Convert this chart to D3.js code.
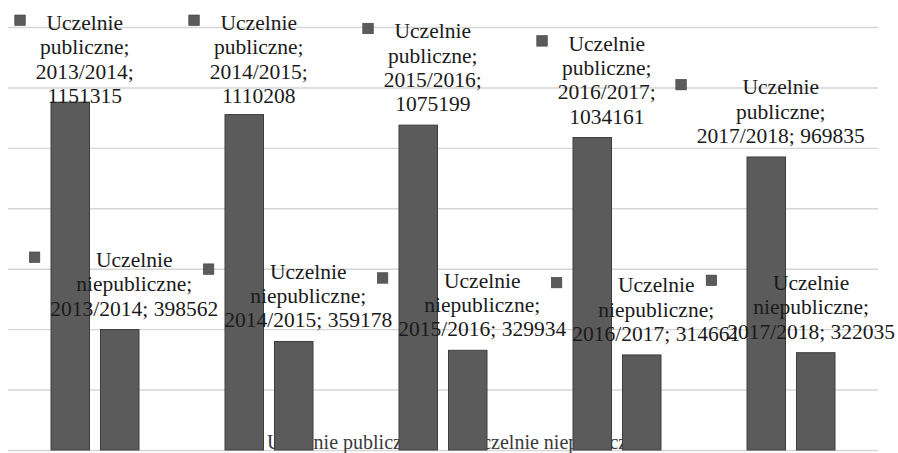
<!DOCTYPE html>
<html>
<head>
<meta charset="utf-8">
<script src="https://cdn.jsdelivr.net/npm/d3@7"></script>
<style>
body { margin: 0; background: #fff; }
svg { display: block; }
</style>
</head>
<body>
<div class="chart"></div>
<script>
var categories = ['2013/2014', '2014/2015', '2015/2016', '2016/2017', '2017/2018'];
var seriesNames = ['Uczelnie publiczne', 'Uczelnie niepubliczne'];
var publiczne = [1151315, 1110208, 1075199, 1034161, 969835];
var niepubliczne = [398562, 359178, 329934, 314661, 322035];
var yTicks = [0, 200000, 400000, 600000, 800000, 1000000, 1200000, 1400000];

var width = 898, height = 453;
var plotLeft = 8, plotRight = 878, plotBottom = 450, plotTop = 27;
var fontFamily = '"Liberation Serif", "Times New Roman", serif';
var labelSize = 21.5, lineH = 24.3;

var svg = d3.select('.chart').append('svg')
    .attr('width', width)
    .attr('height', height);

var x0 = d3.scaleBand().domain(categories).range([plotLeft, plotRight]);
var x1 = d3.scaleBand().domain(seriesNames).range([43, 131]).paddingInner(0.222);
var y = d3.scaleLinear().domain([0, 1400000]).range([plotBottom, plotTop]);

// gridlines
var grid = svg.append('g')
    .attr('transform', 'translate(' + plotLeft + ',0)')
    .call(d3.axisLeft(y).tickValues(yTicks).tickSize(-(plotRight - plotLeft)).tickFormat(''));
grid.select('.domain').remove();
grid.selectAll('.tick line').attr('stroke', '#d6d6d6').attr('stroke-width', 1.4);

// measuring helper
var meas = svg.append('text')
    .attr('font-family', fontFamily)
    .attr('font-size', labelSize)
    .attr('visibility', 'hidden');
function textW(s, size) {
    meas.attr('font-size', size).text(s);
    return meas.node().getComputedTextLength();
}

// legend (sits under the bars)
var legendSize = 20;
var legendW = seriesNames.map(function(s){ return 10 + 5 + textW(s, legendSize); });
var legendGap = 32;
var legendTotal = d3.sum(legendW) + legendGap;
var lx = 449 - legendTotal / 2;
var legend = svg.append('g');
seriesNames.forEach(function(s, i){
    legend.append('rect')
        .attr('x', lx).attr('y', 438)
        .attr('width', 10).attr('height', 10)
        .attr('fill', '#5a5a5a');
    legend.append('text')
        .attr('x', lx + 15).attr('y', 449)
        .attr('font-family', fontFamily)
        .attr('font-size', legendSize)
        .attr('fill', '#3a3a3a')
        .text(s);
    lx += legendW[i] + legendGap;
});

// bars
var bars = [];
categories.forEach(function(c, i){
    bars.push({cat: c, series: seriesNames[0], value: publiczne[i]});
    bars.push({cat: c, series: seriesNames[1], value: niepubliczne[i]});
});

svg.selectAll('.bar')
    .data(bars)
    .enter().append('rect')
    .attr('class', 'bar')
    .attr('x', function(d){ return x0(d.cat) + x1(d.series); })
    .attr('y', function(d){ return y(d.value); })
    .attr('width', x1.bandwidth())
    .attr('height', function(d){ return y(0) - y(d.value); })
    .attr('fill', '#5b5b5b')
    .attr('stroke', '#3e3e3e')
    .attr('stroke-width', 1);

// data labels with legend key
var maxLine = 169.5;
function wrap(str) {
    var words = str.split(' ');
    var lines = [];
    var cur = '';
    words.forEach(function(w){
        var t = cur ? cur + ' ' + w : w;
        if (cur && textW(t, labelSize) > maxLine) {
            lines.push(cur);
            cur = w;
        } else {
            cur = t;
        }
    });
    lines.push(cur);
    return lines;
}

var labels = svg.append('g');
bars.forEach(function(d){
    var lines = wrap(d.series + '; ' + d.cat + '; ' + d.value);
    var maxW = d3.max(lines, function(l){ return textW(l, labelSize); });
    var barCenter = x0(d.cat) + x1(d.series) + x1.bandwidth() / 2;
    var cx = barCenter + 14.5;
    if (cx + maxW / 2 > 895) cx = 895 - maxW / 2;
    var lastBase = y(d.value) - 14;
    var firstBase = lastBase - (lines.length - 1) * lineH;
    if (firstBase < 30) firstBase = 30;

    labels.append('rect')
        .attr('x', cx - maxW / 2 - 21)
        .attr('y', firstBase - 15)
        .attr('width', 10.5).attr('height', 10.5)
        .attr('fill', '#5b5b5b')
        .attr('stroke', '#3e3e3e')
        .attr('stroke-width', 0.6);

    var t = labels.append('text')
        .attr('font-family', fontFamily)
        .attr('font-size', labelSize)
        .attr('fill', '#1a1a1a')
        .attr('text-anchor', 'middle');
    lines.forEach(function(l, k){
        t.append('tspan')
            .attr('x', cx)
            .attr('y', firstBase + k * lineH)
            .text(l);
    });
});
meas.remove();
</script>
</body>
</html>
